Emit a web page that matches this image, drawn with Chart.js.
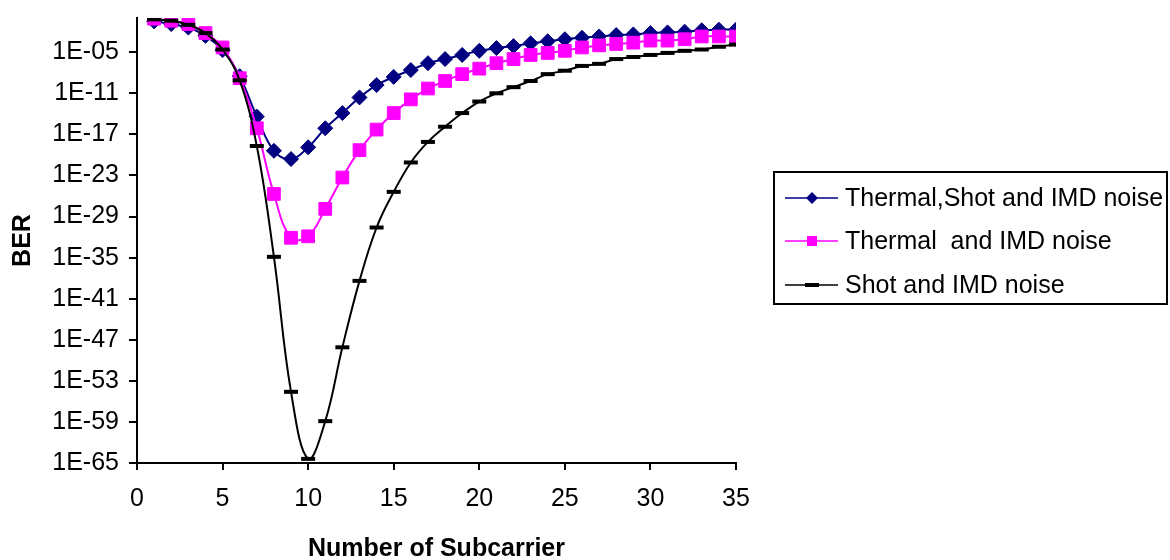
<!DOCTYPE html>
<html><head><meta charset="utf-8">
<script src="https://cdn.jsdelivr.net/npm/chart.js@4/dist/chart.umd.min.js"></script>
<style>html,body{margin:0;padding:0;background:#fff;}#wrap{width:1170px;height:560px;position:relative;}</style>
</head><body><div id="wrap"><canvas id="c" width="1170" height="560"></canvas></div>
<script>
// ---- data ----
const subcarriers = [1,2,3,4,5,6,7,8,9,10,11,12,13,14,15,16,17,18,19,20,21,22,23,24,25,26,27,28,29,30,31,32,33,34,35];
const berThermalShotImd = [3.2e-1,1.3e-1,4.0e-2,2.5e-3,2.0e-5,3.2e-9,4.0e-15,4.0e-20,2.5e-21,1.3e-19,7.9e-17,1.3e-14,2.5e-12,1.6e-10,2.5e-9,2.5e-8,2.5e-7,1.0e-6,4.0e-6,1.6e-5,4.0e-5,7.9e-5,2.0e-4,4.0e-4,7.9e-4,1.3e-3,2.0e-3,3.2e-3,4.0e-3,6.3e-3,7.9e-3,1.0e-2,1.6e-2,2.0e-2,2.0e-2];
const berThermalImd = [7.9e-1,4.0e-1,1.3e-1,6.3e-3,5.0e-5,1.6e-9,7.9e-17,2.0e-26,7.9e-33,1.3e-32,1.3e-28,5.0e-24,5.0e-20,5.0e-17,1.3e-14,1.3e-12,5.0e-11,6.3e-10,6.3e-9,4.0e-8,2.5e-7,1.0e-6,4.0e-6,7.9e-6,1.6e-5,5.0e-5,1.0e-4,1.6e-4,2.5e-4,5.0e-4,5.0e-4,7.9e-4,2.0e-3,2.0e-3,2.0e-3];
const berShotImd = [6.3e-1,4.0e-1,1.0e-1,6.3e-3,2.5e-5,7.9e-10,2.0e-19,1.3e-35,2.5e-55,4.0e-65,1.3e-59,7.9e-49,4.0e-39,2.5e-31,4.0e-26,7.9e-22,7.9e-19,1.3e-16,1.3e-14,6.3e-13,1.0e-11,7.9e-11,6.3e-10,6.3e-9,2.0e-8,1.0e-7,2.0e-7,1.0e-6,2.0e-6,4.0e-6,7.9e-6,1.6e-5,2.5e-5,6.3e-5,1.3e-4];
const seriesNames = ['Thermal,Shot and IMD noise','Thermal  and IMD noise','Shot and IMD noise'];
const yTickLabels = ['1E-65','1E-59','1E-53','1E-47','1E-41','1E-35','1E-29','1E-23','1E-17','1E-11','1E-05'];
const xTickLabels = [0,5,10,15,20,25,30,35];
const xTitle = 'Number of Subcarrier';
const yTitle = 'BER';

// ---- styles ----
const FONT = "'Liberation Sans', Arial, sans-serif";
const styles = [
  {color:'#000080', pointStyle:'rectRot', radius:7.5, lw:2, pbw:1},
  {color:'#FF00FF', pointStyle:'rect', radius:9, lw:2, pbw:1},
  {color:'#000000', pointStyle:'line', radius:7, lw:2, pbw:4}
];
const seriesValues = [berThermalShotImd, berThermalImd, berShotImd];
const datasets = seriesValues.map((vals, i) => ({
  label: seriesNames[i],
  data: subcarriers.map((x, k) => ({x: x, y: vals[k]})),
  borderColor: styles[i].color,
  backgroundColor: styles[i].color,
  borderWidth: styles[i].lw,
  pointStyle: styles[i].pointStyle,
  pointRadius: styles[i].radius,
  pointHoverRadius: styles[i].radius,
  pointBorderWidth: styles[i].pbw,
  pointBorderColor: styles[i].color,
  pointBackgroundColor: styles[i].color,
  tension: 0.4,
  fill: false
}));
datasets.reverse();

const tickValueOf = (lab) => Number(lab.replace('E', 'e'));

const boxLegend = {
  id: 'boxLegend',
  afterDraw(chart) {
    const ctx = chart.ctx;
    ctx.save();
    ctx.lineWidth = 2;
    ctx.strokeStyle = '#000';
    ctx.strokeRect(774, 172, 393, 132);
    const rowsY = [198, 241, 285];
    ctx.font = '25px ' + FONT;
    ctx.textBaseline = 'middle';
    seriesNames.forEach((name, i) => {
      const st = styles[i];
      const y = rowsY[i];
      ctx.strokeStyle = st.color;
      ctx.lineWidth = 1.5;
      ctx.beginPath(); ctx.moveTo(785, y); ctx.lineTo(838, y); ctx.stroke();
      ctx.fillStyle = st.color;
      ctx.beginPath();
      if (st.pointStyle === 'rectRot') { ctx.moveTo(812, y-6); ctx.lineTo(818, y); ctx.lineTo(812, y+6); ctx.lineTo(806, y); ctx.closePath(); ctx.fill(); }
      else if (st.pointStyle === 'rect') { ctx.fillRect(807, y-5, 10, 10); }
      else { ctx.fillRect(805, y-2, 14, 4); }
      ctx.fillStyle = '#000';
      ctx.fillText(name, 845, y + 1);
    });
    ctx.restore();
  }
};

new Chart(document.getElementById('c'), {
  type: 'line',
  data: { datasets: datasets },
  options: {
    responsive: false,
    animation: false,
    devicePixelRatio: 1,
    layout: { padding: { top: 18, right: 434, left: 0, bottom: 0 } },
    plugins: { legend: { display: false }, tooltip: { enabled: false } },
    scales: {
      x: {
        type: 'linear', min: 0, max: 35,
        afterBuildTicks: (s) => { s.ticks = xTickLabels.map(v => ({value: v})); },
        afterFit: (s) => { s.height = 97; s.paddingLeft = 0; s.paddingRight = 0; },
        ticks: { color: '#000', font: { family: FONT, size: 25 }, padding: 14, maxRotation: 0 },
        grid: { drawOnChartArea: false, drawTicks: true, tickLength: 7, color: '#000', lineWidth: 2 },
        border: { display: true, color: '#000', width: 2 },
        title: { display: true, text: xTitle, color: '#000', font: { family: FONT, size: 25, weight: 'bold', lineHeight: 1 }, padding: { top: 0, bottom: -2 } }
      },
      y: {
        type: 'logarithmic', min: 1e-65, max: 1,
        afterBuildTicks: (s) => { s.ticks = yTickLabels.map(l => ({value: tickValueOf(l), label: l})); },
        afterFit: (s) => { s.width = 137; s.paddingTop = 0; s.paddingBottom = 0; },
        ticks: { color: '#000', font: { family: FONT, size: 25 }, padding: 10,
          callback: (v, idx) => yTickLabels[idx] },
        grid: { drawOnChartArea: false, drawTicks: true, tickLength: 8, color: '#000', lineWidth: 2 },
        border: { display: true, color: '#000', width: 2 },
        title: { display: true, text: yTitle, color: '#000', font: { family: FONT, size: 25, weight: 'bold' }, padding: { top: 8, bottom: 0 } }
      }
    }
  },
  plugins: [boxLegend]
});
</script></body></html>
